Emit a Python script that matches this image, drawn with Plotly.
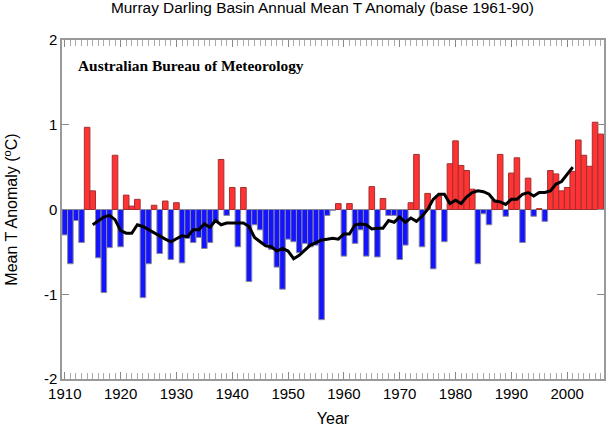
import plotly.graph_objects as go

# annual anomaly
years = list(range(1910, 2007))
anomaly = [
    -0.30, -0.64, -0.13, -0.39, 0.97, 0.22, -0.57, -0.98, -0.45, 0.64,
    -0.44, 0.17, 0.04, 0.12, -1.04, -0.64, 0.05, -0.52, 0.10, -0.59,
    0.08, -0.63, -0.34, -0.39, -0.33, -0.46, -0.39, -0.14, 0.59, -0.07,
    0.26, -0.44, 0.26, -0.85, -0.18, -0.24, -0.42, -0.47, -0.68, -0.94,
    -0.35, -0.38, -0.51, -0.40, -0.44, -0.42, -1.30, -0.07, -0.01, 0.07,
    -0.55, 0.07, -0.40, -0.24, -0.55, 0.27, -0.56, 0.13, -0.07, -0.07,
    -0.59, -0.42, 0.08, 0.65, -0.44, 0.19, -0.70, 0.16, -0.38, 0.54,
    0.81, 0.52, 0.46, 0.24, -0.64, -0.05, -0.18, 0.11, 0.65, -0.08,
    0.43, 0.61, -0.39, 0.37, -0.08, 0.01, -0.14, 0.46, 0.42, 0.22,
    0.26, 0.45, 0.82, 0.64, 0.51, 1.03, 0.89,
]

# smoothed curve, 1915-2001
smooth_years = list(range(1915, 2002))
smooth = [
    -0.18, -0.13, -0.09, -0.07, -0.12, -0.25, -0.28, -0.28, -0.18, -0.20,
    -0.24, -0.27, -0.32, -0.35, -0.38, -0.34, -0.31, -0.32, -0.24, -0.24,
    -0.17, -0.21, -0.13, -0.18, -0.16, -0.16, -0.16, -0.16, -0.20, -0.33,
    -0.38, -0.43, -0.44, -0.49, -0.46, -0.49, -0.58, -0.54, -0.48, -0.42,
    -0.39, -0.36, -0.35, -0.34, -0.35, -0.29, -0.29, -0.18, -0.17, -0.18,
    -0.23, -0.22, -0.22, -0.13, -0.15, -0.09, -0.15, -0.10, -0.14, -0.08,
    0.00, 0.12, 0.18, 0.18, 0.07, 0.11, 0.07, 0.15, 0.20, 0.22,
    0.21, 0.18, 0.10, 0.09, 0.06, 0.12, 0.12, 0.18, 0.20, 0.16,
    0.20, 0.20, 0.22, 0.30, 0.33, 0.42, 0.50,
]

bar_colors = ["#ff3333" if v >= 0 else "#1414ff" for v in anomaly]
edge_colors = ["#a03030" if v >= 0 else "#8a8a9a" for v in anomaly]

fig = go.Figure()
fig.add_trace(go.Bar(
    x=years, y=anomaly, width=1.0,
    marker=dict(color=bar_colors, line=dict(color=edge_colors, width=1)),
))
fig.add_trace(go.Scatter(
    x=smooth_years, y=smooth, mode="lines",
    line=dict(color="black", width=3),
))

axis_font = dict(family="Liberation Sans", size=15, color="black")
fig.update_layout(
    width=606, height=427,
    margin=dict(l=62, r=0, t=40, b=47),
    paper_bgcolor="white", plot_bgcolor="white",
    showlegend=False,
    font=dict(family="Liberation Sans", color="black"),
    title=dict(
        text="Murray Darling Basin Annual Mean T Anomaly (base 1961-90)",
        font=dict(size=15.4), x=0.532, xanchor="center", y=0.996, yanchor="top",
    ),
    annotations=[dict(
        text="<b>Australian Bureau of Meteorology</b>",
        xref="paper", yref="paper", x=0.0255, y=0.926,
        xanchor="left", yanchor="middle", showarrow=False,
        font=dict(family="Liberation Serif", size=15.4, color="black"),
    )],
)
fig.update_xaxes(
    range=[1909.5, 2006.6], tickvals=list(range(1910, 2010, 10)),
    ticks="inside", ticklen=7, tickcolor="#888888", tickfont=axis_font,
    minor=dict(dtick=1, tick0=1910, ticks="inside", ticklen=6, tickcolor="#aaaaaa"),
    showline=True, linecolor="#999999", linewidth=1.5, mirror="ticks",
    showgrid=False, zeroline=False,
    title=dict(text="Year", font=dict(size=16), standoff=14),
)
fig.update_yaxes(
    range=[-2, 2], tickvals=[-2, -1, 0, 1, 2], ticktext=["-2", "-1", "0", "1", "2"],
    ticks="inside", ticklen=7, tickcolor="#888888", tickfont=axis_font,
    showline=True, linecolor="#999999", linewidth=1.5, mirror="ticks",
    showgrid=False, zeroline=False,
    title=dict(text="Mean T Anomaly (<sup>o</sup>C)", font=dict(size=16), standoff=22),
)

# browser's default body margin would push the figure 8px off
fig.write_html(
    "out.html",
    config={"displayModeBar": False},
    post_script="document.body.style.margin='0';",
)
